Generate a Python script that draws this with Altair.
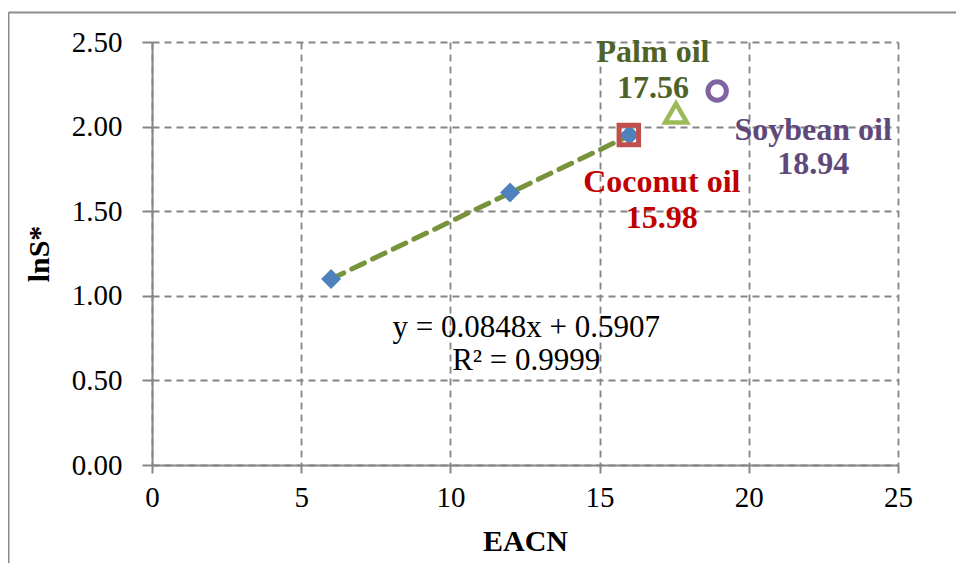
import altair as alt
import pandas as pd

# --- data ---
alkane_eacn = [6, 12, 16]
alkane_lns = [1.10, 1.61, 1.95]

oil_names = ["Coconut oil", "Palm oil", "Soybean oil"]
oil_eacn = [15.98, 17.56, 18.94]
oil_lns = [1.95, 2.08, 2.21]

fit_slope = 0.0848
fit_intercept = 0.5907
fit_r2 = 0.9999

x_ticks = [0, 5, 10, 15, 20, 25]
y_ticks = [0.0, 0.5, 1.0, 1.5, 2.0, 2.5]

FONT = "Liberation Serif"

alk = pd.DataFrame({"x": alkane_eacn, "y": alkane_lns})
fit = pd.DataFrame({"x": [alkane_eacn[0], alkane_eacn[-1]]})
fit["y"] = fit_slope * fit["x"] + fit_intercept
oils = pd.DataFrame({"name": oil_names, "x": oil_eacn, "y": oil_lns})

xs = alt.Scale(domain=[0, 25], nice=False, zero=False)
ys = alt.Scale(domain=[0, 2.5], nice=False, zero=False)

common_axis = dict(
    domainColor="#868686", domainWidth=2, tickColor="#868686", tickWidth=2,
    gridColor="#868686", gridWidth=1.8, gridDash=[7, 5], gridOpacity=1,
    titleColor="black", titleFont=FONT, titleFontSize=30, titleFontWeight="bold",
    labelFont=FONT, labelFontSize=29, labelColor="black", grid=True,
    labelFlush=False,
)

X = alt.X("x:Q", scale=xs, axis=alt.Axis(
    values=x_ticks, format="d", title="EACN", titlePadding=14,
    labelPadding=10, tickSize=8, **common_axis))
Y = alt.Y("y:Q", scale=ys, axis=alt.Axis(
    values=y_ticks, format=".2f", title="lnS*", titlePadding=17,
    labelPadding=20, tickSize=10, **common_axis))

line = alt.Chart(fit).mark_line(
    color="#77933C", strokeWidth=5, strokeDash=[14, 9], strokeCap="round"
).encode(x=X, y=Y)

diamonds = alt.Chart(alk).mark_point(
    shape="diamond", filled=True, color="#4F81BD", size=400, opacity=1
).encode(x=X, y=Y)

def oil(name):
    return alt.Chart(oils).transform_filter(alt.datum.name == name)

coconut = oil("Coconut oil").mark_point(
    shape="square", filled=False, stroke="#C0504D", strokeWidth=5, size=380, opacity=1
).encode(x=X, y=Y)
palm = oil("Palm oil").mark_point(
    shape="triangle-up", filled=False, stroke="#9BBB59", strokeWidth=4.5, size=480, opacity=1
).encode(x=X, y=Y)
soy = oil("Soybean oil").mark_point(
    shape="circle", filled=False, stroke="#8064A2", strokeWidth=5, size=340, opacity=1
).encode(x=X, y=Y)

def oil_label(name, color, dx, dy, lh):
    idx = oil_names.index(name)
    return oil(name).mark_text(
        font=FONT, fontSize=32, fontWeight="bold", color=color,
        align="center", baseline="middle", dx=dx, dy=dy, lineHeight=lh
    ).encode(x=X, y=Y, text=alt.value([name, f"{oil_eacn[idx]:.2f}"]))

lab_coc = oil_label("Coconut oil", "#C00000", 33, 47, 36)
lab_palm = oil_label("Palm oil", "#4F6228", -23, -61, 36)
lab_soy = oil_label("Soybean oil", "#5F497A", 96, 39, 34)

eq_df = pd.DataFrame({"x": [11], "y": [fit_slope * 11 + fit_intercept]})
eq = alt.Chart(eq_df).mark_text(
    font=FONT, fontSize=31, color="black", align="center", baseline="middle",
    dx=46, dy=121, lineHeight=33
).encode(x=X, y=Y, text=alt.value(
    [f"y = {fit_slope}x + {fit_intercept}", f"R² = {fit_r2}"]))

border_top = alt.Chart(eq_df).mark_rule(color="#8C8C8C", strokeWidth=2).encode(
    x=alt.value(-143.5), x2=alt.value(820), y=alt.value(-29.5))
border_left = alt.Chart(eq_df).mark_rule(color="#8C8C8C", strokeWidth=2).encode(
    x=alt.value(-143.5), y=alt.value(-29.5), y2=alt.value(600))

chart = alt.layer(
    border_top, border_left, line, diamonds, coconut, palm, soy,
    lab_coc, lab_palm, lab_soy, eq
).properties(
    width=746, height=423,
    background="white",
    autosize=alt.AutoSizeParams(type="none"),
    padding={"left": 144, "top": 34, "right": 58, "bottom": 98},
).configure_view(stroke=None)

chart.save("out.html", embed_options={"renderer": "svg", "actions": False})
